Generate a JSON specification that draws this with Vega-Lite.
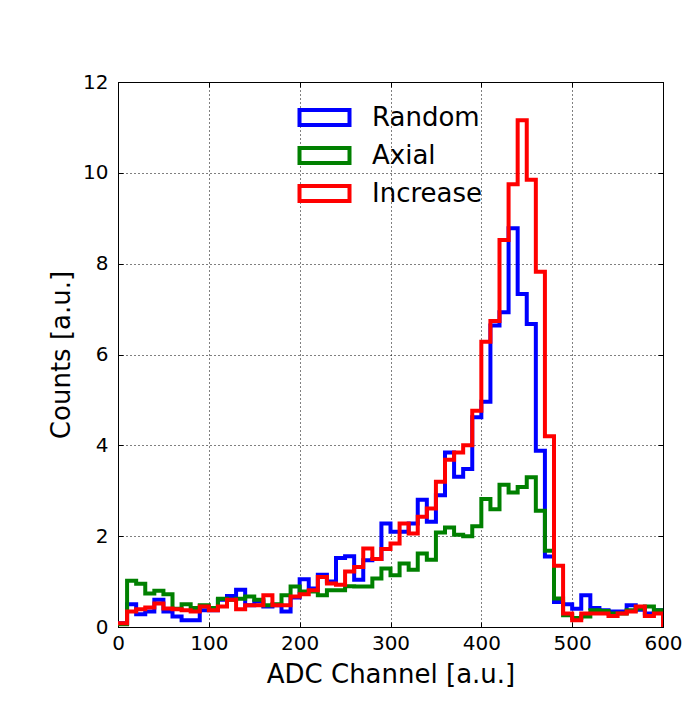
{
  "$schema": "https://vega.github.io/schema/vega-lite/v6.json",
  "width": 545,
  "height": 545,
  "autosize": {"type": "none"},
  "padding": {"left": 118, "top": 82, "right": 30, "bottom": 94},
  "background": "white",
  "datasets": {
    "random": [
      {"series":"Random","adc":0,"counts":0.08},{"series":"Random","adc":10,"counts":0.5},{"series":"Random","adc":20,"counts":0.28},{"series":"Random","adc":30,"counts":0.34},{"series":"Random","adc":40,"counts":0.6},{"series":"Random","adc":50,"counts":0.34},{"series":"Random","adc":60,"counts":0.23},{"series":"Random","adc":70,"counts":0.15},{"series":"Random","adc":80,"counts":0.15},{"series":"Random","adc":90,"counts":0.37},
      {"series":"Random","adc":100,"counts":0.37},{"series":"Random","adc":110,"counts":0.6},{"series":"Random","adc":120,"counts":0.68},{"series":"Random","adc":130,"counts":0.82},{"series":"Random","adc":140,"counts":0.48},{"series":"Random","adc":150,"counts":0.56},{"series":"Random","adc":160,"counts":0.45},{"series":"Random","adc":170,"counts":0.48},{"series":"Random","adc":180,"counts":0.34},{"series":"Random","adc":190,"counts":0.65},
      {"series":"Random","adc":200,"counts":1.05},{"series":"Random","adc":210,"counts":0.85},{"series":"Random","adc":220,"counts":1.15},{"series":"Random","adc":230,"counts":1.0},{"series":"Random","adc":240,"counts":1.52},{"series":"Random","adc":250,"counts":1.56},{"series":"Random","adc":260,"counts":1.04},{"series":"Random","adc":270,"counts":1.47},{"series":"Random","adc":280,"counts":1.5},{"series":"Random","adc":290,"counts":2.28},
      {"series":"Random","adc":300,"counts":2.1},{"series":"Random","adc":310,"counts":2.1},{"series":"Random","adc":320,"counts":2.28},{"series":"Random","adc":330,"counts":2.8},{"series":"Random","adc":340,"counts":2.32},{"series":"Random","adc":350,"counts":2.9},{"series":"Random","adc":360,"counts":3.84},{"series":"Random","adc":370,"counts":3.31},{"series":"Random","adc":380,"counts":3.48},{"series":"Random","adc":390,"counts":4.62},
      {"series":"Random","adc":400,"counts":4.96},{"series":"Random","adc":410,"counts":6.64},{"series":"Random","adc":420,"counts":6.93},{"series":"Random","adc":430,"counts":8.78},{"series":"Random","adc":440,"counts":7.33},{"series":"Random","adc":450,"counts":6.67},{"series":"Random","adc":460,"counts":3.88},{"series":"Random","adc":470,"counts":1.55},{"series":"Random","adc":480,"counts":0.55},{"series":"Random","adc":490,"counts":0.5},
      {"series":"Random","adc":500,"counts":0.4},{"series":"Random","adc":510,"counts":0.7},{"series":"Random","adc":520,"counts":0.42},{"series":"Random","adc":530,"counts":0.37},{"series":"Random","adc":540,"counts":0.34},{"series":"Random","adc":550,"counts":0.34},{"series":"Random","adc":560,"counts":0.48},{"series":"Random","adc":570,"counts":0.38},{"series":"Random","adc":580,"counts":0.3},{"series":"Random","adc":590,"counts":0.37},
      {"series":"Random","adc":600,"counts":0}
    ],
    "axial": [
      {"series":"Axial","adc":0,"counts":0.06},{"series":"Axial","adc":10,"counts":1.02},{"series":"Axial","adc":20,"counts":0.95},{"series":"Axial","adc":30,"counts":0.74},{"series":"Axial","adc":40,"counts":0.8},{"series":"Axial","adc":50,"counts":0.72},{"series":"Axial","adc":60,"counts":0.4},{"series":"Axial","adc":70,"counts":0.5},{"series":"Axial","adc":80,"counts":0.42},{"series":"Axial","adc":90,"counts":0.48},
      {"series":"Axial","adc":100,"counts":0.42},{"series":"Axial","adc":110,"counts":0.62},{"series":"Axial","adc":120,"counts":0.6},{"series":"Axial","adc":130,"counts":0.62},{"series":"Axial","adc":140,"counts":0.67},{"series":"Axial","adc":150,"counts":0.6},{"series":"Axial","adc":160,"counts":0.48},{"series":"Axial","adc":170,"counts":0.5},{"series":"Axial","adc":180,"counts":0.7},{"series":"Axial","adc":190,"counts":0.89},
      {"series":"Axial","adc":200,"counts":0.78},{"series":"Axial","adc":210,"counts":0.78},{"series":"Axial","adc":220,"counts":0.7},{"series":"Axial","adc":230,"counts":0.81},{"series":"Axial","adc":240,"counts":0.81},{"series":"Axial","adc":250,"counts":0.9},{"series":"Axial","adc":260,"counts":0.89},{"series":"Axial","adc":270,"counts":0.89},{"series":"Axial","adc":280,"counts":1.07},{"series":"Axial","adc":290,"counts":1.29},
      {"series":"Axial","adc":300,"counts":1.14},{"series":"Axial","adc":310,"counts":1.4},{"series":"Axial","adc":320,"counts":1.26},{"series":"Axial","adc":330,"counts":1.62},{"series":"Axial","adc":340,"counts":1.48},{"series":"Axial","adc":350,"counts":2.08},{"series":"Axial","adc":360,"counts":2.19},{"series":"Axial","adc":370,"counts":2.03},{"series":"Axial","adc":380,"counts":2.0},{"series":"Axial","adc":390,"counts":2.22},
      {"series":"Axial","adc":400,"counts":2.82},{"series":"Axial","adc":410,"counts":2.59},{"series":"Axial","adc":420,"counts":3.13},{"series":"Axial","adc":430,"counts":2.96},{"series":"Axial","adc":440,"counts":3.08},{"series":"Axial","adc":450,"counts":3.3},{"series":"Axial","adc":460,"counts":2.56},{"series":"Axial","adc":470,"counts":1.68},{"series":"Axial","adc":480,"counts":0.63},{"series":"Axial","adc":490,"counts":0.26},
      {"series":"Axial","adc":500,"counts":0.2},{"series":"Axial","adc":510,"counts":0.23},{"series":"Axial","adc":520,"counts":0.37},{"series":"Axial","adc":530,"counts":0.35},{"series":"Axial","adc":540,"counts":0.3},{"series":"Axial","adc":550,"counts":0.3},{"series":"Axial","adc":560,"counts":0.37},{"series":"Axial","adc":570,"counts":0.41},{"series":"Axial","adc":580,"counts":0.45},{"series":"Axial","adc":590,"counts":0.37},
      {"series":"Axial","adc":600,"counts":0}
    ],
    "increase": [
      {"series":"Increase","adc":0,"counts":0.08},{"series":"Increase","adc":10,"counts":0.34},{"series":"Increase","adc":20,"counts":0.39},{"series":"Increase","adc":30,"counts":0.43},{"series":"Increase","adc":40,"counts":0.52},{"series":"Increase","adc":50,"counts":0.41},{"series":"Increase","adc":60,"counts":0.39},{"series":"Increase","adc":70,"counts":0.37},{"series":"Increase","adc":80,"counts":0.34},{"series":"Increase","adc":90,"counts":0.45},
      {"series":"Increase","adc":100,"counts":0.37},{"series":"Increase","adc":110,"counts":0.45},{"series":"Increase","adc":120,"counts":0.6},{"series":"Increase","adc":130,"counts":0.39},{"series":"Increase","adc":140,"counts":0.48},{"series":"Increase","adc":150,"counts":0.48},{"series":"Increase","adc":160,"counts":0.7},{"series":"Increase","adc":170,"counts":0.48},{"series":"Increase","adc":180,"counts":0.48},{"series":"Increase","adc":190,"counts":0.67},
      {"series":"Increase","adc":200,"counts":0.72},{"series":"Increase","adc":210,"counts":0.81},{"series":"Increase","adc":220,"counts":1.1},{"series":"Increase","adc":230,"counts":0.96},{"series":"Increase","adc":240,"counts":0.93},{"series":"Increase","adc":250,"counts":1.22},{"series":"Increase","adc":260,"counts":1.32},{"series":"Increase","adc":270,"counts":1.73},{"series":"Increase","adc":280,"counts":1.5},{"series":"Increase","adc":290,"counts":1.72},
      {"series":"Increase","adc":300,"counts":1.84},{"series":"Increase","adc":310,"counts":2.28},{"series":"Increase","adc":320,"counts":2.06},{"series":"Increase","adc":330,"counts":2.43},{"series":"Increase","adc":340,"counts":2.61},{"series":"Increase","adc":350,"counts":3.2},{"series":"Increase","adc":360,"counts":3.68},{"series":"Increase","adc":370,"counts":3.84},{"series":"Increase","adc":380,"counts":4.0},{"series":"Increase","adc":390,"counts":4.76},
      {"series":"Increase","adc":400,"counts":6.28},{"series":"Increase","adc":410,"counts":6.74},{"series":"Increase","adc":420,"counts":8.52},{"series":"Increase","adc":430,"counts":9.75},{"series":"Increase","adc":440,"counts":11.16},{"series":"Increase","adc":450,"counts":9.85},{"series":"Increase","adc":460,"counts":7.82},{"series":"Increase","adc":470,"counts":4.2},{"series":"Increase","adc":480,"counts":1.35},{"series":"Increase","adc":490,"counts":0.3},
      {"series":"Increase","adc":500,"counts":0.15},{"series":"Increase","adc":510,"counts":0.3},{"series":"Increase","adc":520,"counts":0.3},{"series":"Increase","adc":530,"counts":0.3},{"series":"Increase","adc":540,"counts":0.24},{"series":"Increase","adc":550,"counts":0.3},{"series":"Increase","adc":560,"counts":0.34},{"series":"Increase","adc":570,"counts":0.45},{"series":"Increase","adc":580,"counts":0.24},{"series":"Increase","adc":590,"counts":0.3},
      {"series":"Increase","adc":600,"counts":0}
    ]
  },
  "layer": [
    {
      "data": {"name": "random"},
      "mark": {"type": "line", "interpolate": "step-after", "strokeWidth": 4, "clip": true, "strokeJoin": "miter", "strokeCap": "butt"},
      "encoding": {
        "x": {"field": "adc", "type": "quantitative", "scale": {"domain": [0, 600], "nice": false}, "axis": {"title": "ADC Channel [a.u.]", "values": [0, 100, 200, 300, 400, 500, 600], "grid": true, "labelPadding": 11, "titlePadding": 8}},
        "y": {"field": "counts", "type": "quantitative", "scale": {"domain": [0, 12], "nice": false}, "axis": {"title": "Counts [a.u.]", "values": [0, 2, 4, 6, 8, 10, 12], "grid": true, "labelPadding": 15, "titlePadding": 8}},
        "color": {"field": "series", "type": "nominal", "scale": {"domain": ["Random", "Axial", "Increase"], "range": ["#0000ff", "#008000", "#ff0000"]}, "legend": {"title": null}}
      }
    },
    {
      "data": {"name": "axial"},
      "mark": {"type": "line", "interpolate": "step-after", "strokeWidth": 4, "clip": true, "strokeJoin": "miter", "strokeCap": "butt"},
      "encoding": {
        "x": {"field": "adc", "type": "quantitative", "axis": {"orient": "top", "title": null, "labels": false, "grid": false, "values": [0, 100, 200, 300, 400, 500, 600]}},
        "y": {"field": "counts", "type": "quantitative", "axis": {"orient": "right", "title": null, "labels": false, "grid": false, "values": [0, 2, 4, 6, 8, 10, 12]}},
        "color": {"field": "series", "type": "nominal"}
      }
    },
    {
      "data": {"name": "increase"},
      "mark": {"type": "line", "interpolate": "step-after", "strokeWidth": 4, "clip": true, "strokeJoin": "miter", "strokeCap": "butt"},
      "encoding": {
        "x": {"field": "adc", "type": "quantitative", "axis": null},
        "y": {"field": "counts", "type": "quantitative", "axis": null},
        "color": {"field": "series", "type": "nominal"}
      }
    }
  ],
  "resolve": {"axis": {"x": "independent", "y": "independent"}},
  "config": {
    "font": "DejaVu Sans",
    "view": {"stroke": "black", "strokeWidth": 1},
    "axis": {
      "domainColor": "black",
      "domainWidth": 1,
      "tickColor": "black",
      "tickSize": -5,
      "labelColor": "black",
      "titleColor": "black",
      "labelFont": "DejaVu Sans",
      "titleFont": "DejaVu Sans",
      "labelFontSize": 20,
      "titleFontSize": 26,
      "titleFontWeight": "normal",
      "gridColor": "black",
      "gridDash": [1, 3],
      "gridOpacity": 1,
      "gridWidth": 1,
      "labelFlush": false,
      "labelOverlap": false
    },
    "legend": {
      "orient": "none",
      "legendX": 192,
      "legendY": 21,
      "padding": 0,
      "symbolType": "M-2,-0.6H2V0.6H-2Z",
      "symbolSize": 625,
      "symbolStrokeWidth": 4,
      "symbolFillColor": "white",
      "symbolOpacity": 1,
      "labelFont": "DejaVu Sans",
      "labelFontSize": 26,
      "labelColor": "black",
      "labelOffset": 33,
      "rowPadding": 7,
      "labelLimit": 300
    }
  }
}
